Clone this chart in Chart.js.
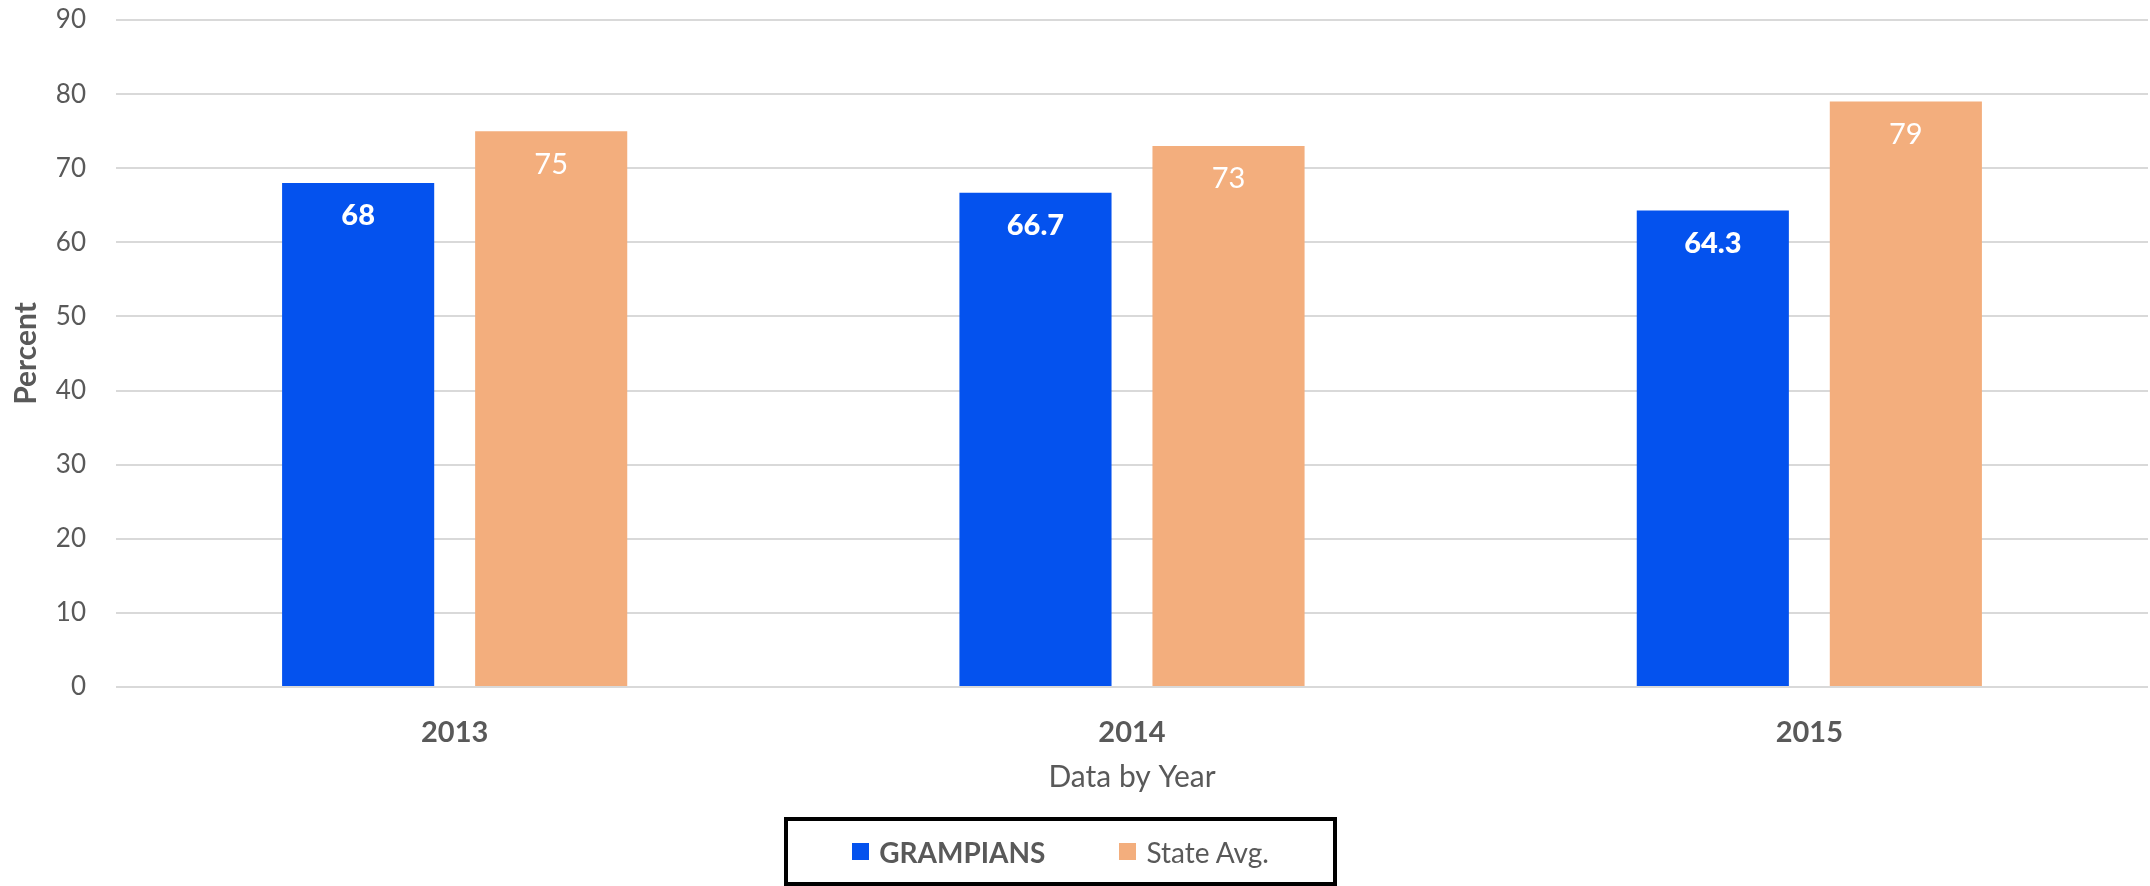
<!DOCTYPE html>
<html>
<head>
<meta charset="utf-8">
<script src="https://cdn.jsdelivr.net/npm/chart.js@4.4.1/dist/chart.umd.min.js"></script>
<style>
  html, body { margin: 0; padding: 0; background: #fff; }
  #wrap { position: relative; width: 2150px; height: 886px; }
  #legend {
    position: absolute; left: 784px; top: 817px; width: 553px; height: 69px;
    box-sizing: border-box; border: 4px solid #000;
    display: flex; align-items: center; justify-content: center; gap: 74px;
    font-family: Lato, "Open Sans", sans-serif; font-size: 28px; color: #595959;
  }
  .item { display: flex; align-items: center; }
  .swatch { width: 17px; height: 17px; margin-right: 10px; }
</style>
</head>
<body>
<div id="wrap">
  <canvas id="chart" width="2150" height="886"></canvas>
  <div id="legend"></div>
</div>
<script>
// chart data
const years = ["2013", "2014", "2015"];
const grampians = [68, 66.7, 64.3];
const stateAvg = [75, 73, 79];
const seriesNames = ["GRAMPIANS", "State Avg."];
const seriesColors = ["#0452EE", "#F3AE7D"];
const yMax = 90;
const yStep = 10;

const textColor = "#595959";
const fontFamily = "Lato, 'Open Sans', sans-serif";

// white value labels inside the top of each bar
const valueLabels = {
  id: "valueLabels",
  afterDatasetsDraw(chart) {
    const ctx = chart.ctx;
    chart.data.datasets.forEach((ds, i) => {
      const meta = chart.getDatasetMeta(i);
      meta.data.forEach((bar, j) => {
        ctx.save();
        ctx.fillStyle = "#ffffff";
        ctx.font = (i === 0 ? "900 " : "") + "29px " + fontFamily;
        ctx.textAlign = "center";
        ctx.textBaseline = "middle";
        ctx.fillText(ds.data[j], bar.x, bar.y + 33);
        ctx.restore();
      });
    });
  },
};

const chart = new Chart(document.getElementById("chart").getContext("2d"), {
  type: "bar",
  data: {
    labels: years,
    datasets: [
      {
        label: seriesNames[0],
        data: grampians,
        backgroundColor: seriesColors[0],
      },
      {
        label: seriesNames[1],
        data: stateAvg,
        backgroundColor: seriesColors[1],
      },
    ],
  },
  options: {
    responsive: false,
    animation: false,
    datasets: {
      bar: { categoryPercentage: 0.57, barPercentage: 0.788 },
    },
    layout: { padding: { top: 20, right: 2, left: 0, bottom: 79 } },
    plugins: {
      legend: { display: false },
      tooltip: { enabled: false },
    },
    scales: {
      x: {
        grid: { display: false },
        border: { display: false },
        ticks: {
          color: textColor,
          padding: 20,
          font: { family: fontFamily, size: 29, weight: "bold" },
        },
        title: {
          display: true,
          text: "Data by Year",
          color: textColor,
          padding: { top: 0, bottom: 12 },
          font: { family: fontFamily, size: 30 },
        },
        afterFit: (scale) => {
          scale.height = 120;
        },
      },
      y: {
        min: 0,
        max: yMax,
        ticks: {
          stepSize: yStep,
          color: textColor,
          padding: 30,
          font: { family: fontFamily, size: 26 },
        },
        grid: { color: "#d9d9d9", lineWidth: 2, drawTicks: false },
        border: { display: false },
        title: {
          display: true,
          text: "Percent",
          color: textColor,
          padding: { top: 8, bottom: 0 },
          font: { family: fontFamily, size: 30, weight: "bold" },
        },
        afterFit: (scale) => {
          scale.width = 116;
          scale.paddingTop = 0;
          scale.paddingBottom = 0;
        },
      },
    },
  },
  plugins: [valueLabels],
});

// legend box built from the datasets
const legend = document.getElementById("legend");
chart.data.datasets.forEach((ds, i) => {
  const item = document.createElement("div");
  item.className = "item";
  item.innerHTML = `<span class="swatch" style="background:${ds.backgroundColor}"></span>
    <span style="font-weight:${i === 0 ? "bold" : "normal"}">${ds.label}</span>`;
  legend.appendChild(item);
});
</script>
</body>
</html>
